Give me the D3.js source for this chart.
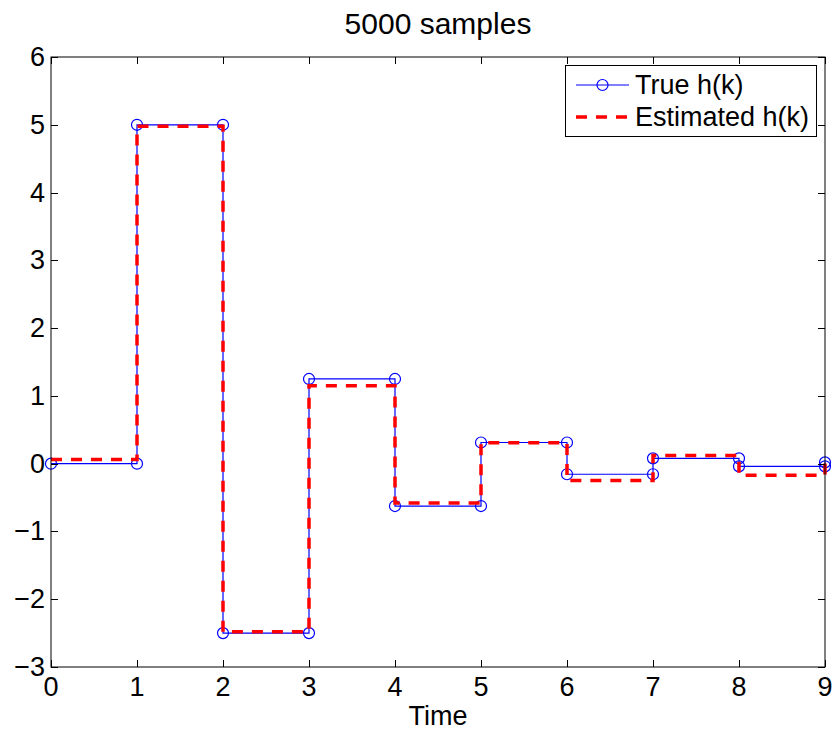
<!DOCTYPE html>
<html>
<head>
<meta charset="utf-8">
<script src="https://cdn.jsdelivr.net/npm/d3@7"></script>
<style>
  body { margin: 0; background: #fff; }
  svg { font-family: "Liberation Sans", Arial, sans-serif; }
</style>
</head>
<body>
<svg id="chart" width="836" height="732"></svg>
<script>
// sample index k
var timeSteps = [0, 1, 2, 3, 4, 5, 6, 7, 8, 9]
// true impulse response
var trueH = [0, 5, -2.5, 1.25, -0.625, 0.3125, -0.15625, 0.078125, -0.0390625, 0.01953]
// estimated impulse response
var estH = [0.06, 4.98, -2.48, 1.15, -0.58, 0.31, -0.25, 0.12, -0.17, 0.02]

var xTicks = [0, 1, 2, 3, 4, 5, 6, 7, 8, 9]
var yTicks = [-3, -2, -1, 0, 1, 2, 3, 4, 5, 6]
var legendNames = ["True h(k)", "Estimated h(k)"]

//plot box edges (top is a reserved window name, so prefix them)
var pLeft = 51, pRight = 825, pTop = 57, pBottom = 667
var fontSize = 27

var svg = d3.select("#chart")

var x = d3.scaleLinear().domain([0, 9]).range([pLeft, pRight])
var y = d3.scaleLinear().domain([-3, 6]).range([pBottom, pTop])

//stairs vertices, each step gets two corners like matlab stairs
function stairs(xs, ys) {
	var pts = []
	for(var i = 0; i < xs.length; i++) {
		if(i > 0) pts.push([xs[i], ys[i - 1]])
		pts.push([xs[i], ys[i]])
	}
	return pts
}

var line = d3.line()
	.x(function(d) { return x(d[0]) })
	.y(function(d) { return y(d[1]) })

var truePts = stairs(timeSteps, trueH)
var estPts = stairs(timeSteps, estH)

svg.append("defs").append("clipPath").attr("id", "clip")
	.append("rect").attr("x", pLeft - 8).attr("y", pTop).attr("width", pRight - pLeft + 16).attr("height", pBottom - pTop)

var plot = svg.append("g").attr("clip-path", "url(#clip)")

plot.append("path")
	.datum(truePts)
	.attr("d", line)
	.attr("fill", "none")
	.attr("stroke", "#0000ff")
	.attr("stroke-width", 1.2)

plot.selectAll("circle.true")
	.data(truePts)
	.enter()
	.append("circle")
	.attr("class", "true")
	.attr("cx", function(d) { return x(d[0]) })
	.attr("cy", function(d) { return y(d[1]) })
	.attr("r", 5.5)
	.attr("fill", "none")
	.attr("stroke", "#0000ff")
	.attr("stroke-width", 1.2)

plot.append("path")
	.datum(estPts)
	.attr("d", line)
	.attr("fill", "none")
	.attr("stroke", "#ff0000")
	.attr("stroke-width", 3.5)
	.attr("stroke-dasharray", "11,9")

// axes box with inward ticks on all sides
var tickLen = 7
var axes = svg.append("g")
axes.append("rect")
	.attr("x", pLeft).attr("y", pTop)
	.attr("width", pRight - pLeft).attr("height", pBottom - pTop)
	.attr("fill", "none").attr("stroke", "#000").attr("stroke-width", 1)

axes.selectAll("path.xt")
	.data(xTicks)
	.enter()
	.append("path")
	.attr("class", "xt")
	.attr("d", function(d) {
		var px = Math.round(x(d)) + 0.5
		return "M" + px + "," + pBottom + "v" + (-tickLen) + "M" + px + "," + pTop + "v" + tickLen
	})
	.attr("stroke", "#000")

axes.selectAll("path.yt")
	.data(yTicks)
	.enter()
	.append("path")
	.attr("class", "yt")
	.attr("d", function(d) {
		var py = Math.round(y(d)) + 0.5
		return "M" + pLeft + "," + py + "h" + tickLen + "M" + pRight + "," + py + "h" + (-tickLen)
	})
	.attr("stroke", "#000")

axes.selectAll("text.xl")
	.data(xTicks)
	.enter()
	.append("text")
	.attr("class", "xl")
	.attr("x", function(d) { return x(d) })
	.attr("y", 696)
	.attr("text-anchor", "middle")
	.attr("font-size", fontSize)
	.text(function(d) { return d })

axes.selectAll("text.yl")
	.data(yTicks)
	.enter()
	.append("text")
	.attr("class", "yl")
	.attr("x", 45)
	.attr("y", function(d) { return y(d) + 9 })
	.attr("text-anchor", "end")
	.attr("font-size", fontSize)
	.text(function(d) { return d < 0 ? "\u2212" + Math.abs(d) : d })

svg.append("text")
	.attr("x", (pLeft + pRight) / 2)
	.attr("y", 34)
	.attr("text-anchor", "middle")
	.attr("font-size", 30)
	.text("5000 samples")

svg.append("text")
	.attr("x", (pLeft + pRight) / 2)
	.attr("y", 725)
	.attr("text-anchor", "middle")
	.attr("font-size", fontSize)
	.text("Time")

// legend
var lg = svg.append("g")
lg.append("rect")
	.attr("x", 565.5).attr("y", 65.5)
	.attr("width", 251).attr("height", 71)
	.attr("fill", "#fff").attr("stroke", "#000")

var rowY = [85, 117]
lg.append("line")
	.attr("x1", 576).attr("x2", 629).attr("y1", rowY[0]).attr("y2", rowY[0])
	.attr("stroke", "#0000ff").attr("stroke-width", 1.2)
lg.append("circle")
	.attr("cx", 602.5).attr("cy", rowY[0]).attr("r", 5.5)
	.attr("fill", "none").attr("stroke", "#0000ff").attr("stroke-width", 1.2)
lg.append("line")
	.attr("x1", 576).attr("x2", 629).attr("y1", rowY[1]).attr("y2", rowY[1])
	.attr("stroke", "#ff0000").attr("stroke-width", 3.5).attr("stroke-dasharray", "11,9")

lg.selectAll("text")
	.data(legendNames)
	.enter()
	.append("text")
	.attr("x", 635)
	.attr("y", function(d, i) { return rowY[i] + 9 })
	.attr("font-size", fontSize)
	.text(function(d) { return d })
</script>
</body>
</html>
